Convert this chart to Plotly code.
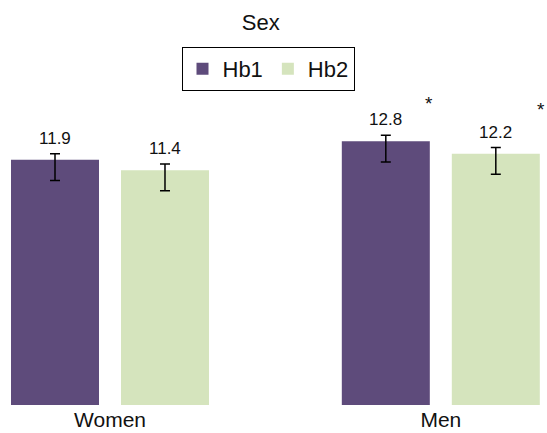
import plotly.graph_objects as go

# Mean haemoglobin by sex for two measurements
categories = ["Women", "Men"]
hb1_values = [11.9, 12.8]
hb2_values = [11.4, 12.2]
hb1_err_plus = [0.3, 0.3]
hb1_err_minus = [1.0, 1.0]
hb2_err_plus = [0.3, 0.3]
hb2_err_minus = [1.0, 1.0]
significant = [False, True]  # marked with an asterisk

PURPLE = "#5E4B7B"
GREEN = "#D5E4BD"
FONT = "Liberation Sans, Arial, sans-serif"

fig = go.Figure()
for name, vals, ep, em, col in [
    ("Hb1", hb1_values, hb1_err_plus, hb1_err_minus, PURPLE),
    ("Hb2", hb2_values, hb2_err_plus, hb2_err_minus, GREEN),
]:
    fig.add_trace(go.Bar(
        name=name, x=categories, y=vals, marker=dict(color=col, line=dict(width=0)),
        error_y=dict(type="data", symmetric=False, array=ep, arrayminus=em,
                     color="black", thickness=1.5, width=5),
    ))

# value labels above error bars, asterisks beside significant pairs
slot = (1 - 0.335) / 2
bar_half = slot * 0.8 / 2
annotations = []
for k, (vals, ep) in enumerate([(hb1_values, hb1_err_plus), (hb2_values, hb2_err_plus)]):
    off = (k - 0.5) * slot
    for i, (v, e) in enumerate(zip(vals, ep)):
        annotations.append(dict(x=i + off, y=v + e, text=f"{v:.1f}", showarrow=False,
                                yanchor="bottom", yshift=4,
                                font=dict(size=17, color="#111", family=FONT)))
        if significant[i]:
            annotations.append(dict(x=i + off + bar_half, y=v + e, text="*", showarrow=False,
                                    yanchor="bottom", yshift=19 + 7 * k, xshift=-1 + 2 * k,
                                    font=dict(size=19, color="#111", family=FONT)))

fig.update_layout(
    width=547, height=433,
    margin=dict(l=0, r=0, t=100, b=28),
    paper_bgcolor="white", plot_bgcolor="white",
    barmode="group", bargap=0.335, bargroupgap=0.2,
    font=dict(family=FONT, color="#111"),
    title=dict(text="Sex", x=260.7 / 547, xref="container", xanchor="center",
               y=1 - 22 / 433, yref="container", yanchor="middle",
               font=dict(size=22, color="#111", family=FONT)),
    legend=dict(orientation="h", x=268 / 547, xanchor="center",
                yref="container", y=1 - 47 / 433, yanchor="top",
                bordercolor="black", borderwidth=1, bgcolor="white",
                font=dict(size=22, color="#111", family=FONT), traceorder="normal"),
    xaxis=dict(type="category", range=[-0.3325, 1.321], showline=False, showgrid=False,
               ticks="", tickfont=dict(size=21, color="#111", family=FONT), fixedrange=True),
    yaxis=dict(visible=False, range=[0, 305 / 20.6], fixedrange=True),
    annotations=annotations,
    showlegend=True,
)

fig.write_html("out.html")
